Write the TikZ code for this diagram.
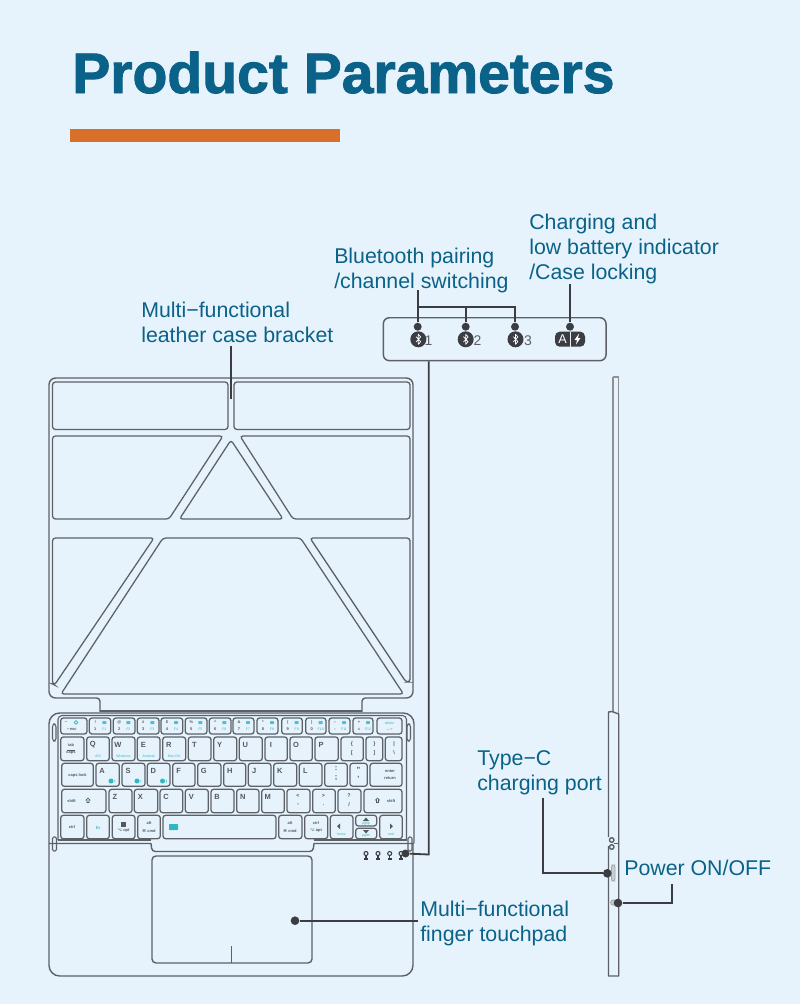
\documentclass[tikz,border=0pt]{standalone}
\usepackage{fontspec}
\setmainfont{Liberation Sans}
\newfontfamily\titlefont[FakeBold=1.6]{Liberation Sans Bold}
\newfontfamily\symf{DejaVu Sans}
\definecolor{bgc}{HTML}{E6F3FC}
\definecolor{txtc}{HTML}{0B6288}
\definecolor{linec}{HTML}{5D6166}
\definecolor{dotc}{HTML}{3C3D42}
\definecolor{tealc}{HTML}{2FB8C2}
\definecolor{barc}{HTML}{D9702A}
\definecolor{keyt}{HTML}{54585C}
\tikzset{
  lbl/.style={font=\fontsize{16}{18.75}\selectfont,text=txtc,align=left,anchor=north west,inner sep=0pt},
  outl/.style={draw=linec,line width=1.05pt,line join=round},
  thin outl/.style={draw=linec,line width=0.95pt,rounded corners=2.2pt},
  keyb/.style={draw=linec,line width=0.95pt,rounded corners=2pt},
  lead/.style={draw=dotc,line width=1.35pt},
  ldot/.style={circle,fill=dotc,inner sep=0pt,minimum size=6pt},
  kl/.style={font=\fontsize{5.6}{6}\selectfont\bfseries,text=keyt,inner sep=0pt},
  ks/.style={font=\fontsize{3}{3}\selectfont\bfseries,text=keyt,inner sep=0pt},
  kt/.style={font=\fontsize{2.6}{3}\selectfont,text=tealc,inner sep=0pt},
  btc/.style={circle,fill=dotc,inner sep=0pt,minimum size=12pt},
}
\newcommand\kk[6]{\draw[keyb](#1,#3) rectangle (#2,#4);
  \node[kl] (k#1-#3) at (#1+6,#3+8) {#5};
  \node[kt] (n#1-#3) at ({(#1+#2)/2},#3+19) {#6};}
\newcommand\kn[5]{\draw[keyb](#1,718) rectangle (#2,734);
  \node[ks] (a#1) at (#1+6,722.5) {#3};
  \node[ks] (b#1) at (#1+6,729.5) {#4};
  \node[kt] (c#1) at (#1+15,729.5) {#5};
  \fill[tealc!85!white,rounded corners=0.4pt] (#1+13,721) rectangle (#1+17,724);}
\newcommand\btr[3]{\draw[#3,line width=0.55pt,line join=round] (#1-2.2,#2-2.6)--(#1+2.4,#2+2.4)--(#1,#2+5)--(#1,#2-5)--(#1+2.4,#2-2.4)--(#1-2.2,#2+2.6);}
\begin{document}
\begin{tikzpicture}[x=0.75pt,y=-0.75pt]
\useasboundingbox (0,0) rectangle (800,1004);
\fill[bgc] (0,0) rectangle (800,1004);
% title
\node[anchor=base west,inner sep=0pt,text=txtc,font=\fontsize{42.8}{46}\titlefont] (title) at (72,93) {Product Parameters};
\fill[barc] (70,129) rectangle (340,142);

% case outline
\draw[outl] (100,712) [rounded corners=2.5pt] -- (100,698) [rounded corners=5pt] -- (49,698) -- (49,378) -- (413,378) -- (413,698) [rounded corners=2.5pt] -- (362,698) [sharp corners] -- (362,712);
% case panels
\draw[thin outl] (52.5,382) rectangle (228,429.5);
\draw[thin outl] (234,382) rectangle (410,429.5);
\draw[thin outl] (52.5,436) -- (223,436) -- (169,519) -- (52.5,519) -- cycle;
\draw[thin outl] (231,440) -- (283,519) -- (179.5,519) -- cycle;
\draw[thin outl] (240,436) -- (410,436) -- (410,519) -- (293,519) -- cycle;
\draw[thin outl] (52.5,538) -- (154,538) -- (54.5,685) -- (52.5,684) -- cycle;
\draw[thin outl] (163,538) -- (300.5,538) -- (403.5,694) -- (61,694) -- cycle;
\draw[thin outl] (310,538) -- (410,538) -- (410,682) -- (406,682) -- cycle;

% keyboard body
\draw[outl,rounded corners=8pt] (49,843) -- (49,713) -- (414,713) -- (414,843);
\draw[outl,line width=0.8pt] (100,711) -- (362,711);
\draw[outl,line width=0.8pt,rounded corners=3pt] (58,840) -- (58,715.5) -- (406.5,715.5) -- (406.5,840);
% hinge
\draw[outl] (49,843.5) -- (151,843.5) [rounded corners=2.5pt] -- (152,851.5) -- (313,851.5) [sharp corners] -- (314,843.5) -- (414,843.5);
\draw[outl,line width=0.8pt] (58,840) -- (151,840);
\draw[outl,line width=0.8pt] (314,840) -- (406.5,840);
\draw[outl,line width=0.8pt,rounded corners=1pt] (52.5,837) rectangle (56.5,851);
\draw[outl,line width=0.8pt,rounded corners=1pt] (408,837) rectangle (412,851);
\draw[outl,line width=0.8pt,rounded corners=2pt] (52.5,724) rectangle (56,741);
\draw[outl,line width=0.8pt,rounded corners=2pt] (407,724) rectangle (410.5,741);
% base
\draw[outl,rounded corners=8pt] (49,843) -- (49,976) -- (413,976) -- (413,843);
% touchpad
\draw[outl,rounded corners=3pt] (152,856) rectangle (312,963);
\draw[outl,line width=0.8pt] (231.7,946) -- (231.7,963);

% number row
\draw[keyb] (60.7,718) rectangle (87,734);
\node[ks] (esca) at (66,722.5) {\textasciitilde};
\node[ks] (escb) at (72,729.5) {• esc};
\draw[tealc,line width=0.5pt] (76,722.5) circle (1.8);
\kn{89.3}{110.7}{!}{1}{F1}
\kn{113.3}{135}{@}{2}{F2}
\kn{137.3}{159}{\#}{3}{F3}
\kn{161}{182.7}{\$}{4}{F4}
\kn{185.3}{207}{\%}{5}{F5}
\kn{209.3}{231}{\textasciicircum}{6}{F6}
\kn{233}{254}{\&}{7}{F7}
\kn{257}{278}{*}{8}{F8}
\kn{281.7}{302.3}{(}{9}{F9}
\kn{305.7}{326}{)}{0}{F10}
\kn{329}{350}{--}{-}{F11}
\kn{353}{373}{+}{=}{F12}
\draw[keyb] (377,718) rectangle (402,734);
\node[kt,text=tealc] (del) at (389.5,723) {delete};
\node[ks] (delb) at (389.5,729.5) {←--};

% QWERTY row
\draw[keyb] (60.7,737) rectangle (84,760.7);
\node[ks,align=center] (tab) at (71,749) {tab\\[-0.6pt]\rule{6pt}{0.3pt}\\[-0.4pt]caps};
\kk{86.7}{109.3}{737}{760.7}{Q}{iOS}
\kk{112}{135}{737}{760.7}{W}{Windows}
\kk{137.3}{160}{737}{760.7}{E}{Android}
\kk{162.7}{185.7}{737}{760.7}{R}{Mac OS}
\kk{188.3}{211}{737}{760.7}{T}{}
\kk{213.7}{236.7}{737}{760.7}{Y}{}
\kk{239.3}{262.3}{737}{760.7}{U}{}
\kk{265}{287.3}{737}{760.7}{I}{}
\kk{290}{312.3}{737}{760.7}{O}{}
\kk{315}{338.3}{737}{760.7}{P}{}
\draw[keyb] (341,737) rectangle (363.3,760.7);
\node[ks,font=\fontsize{4}{4}\selectfont\bfseries] (brl) at (352,744) {\{};
\node[ks,font=\fontsize{4}{4}\selectfont\bfseries] (brl2) at (352,753) {[};
\draw[keyb] (366,737) rectangle (382.7,760.7);
\node[ks,font=\fontsize{4}{4}\selectfont\bfseries] (brr) at (374.5,744) {\}};
\node[ks,font=\fontsize{4}{4}\selectfont\bfseries] (brr2) at (374.5,753) {]};
\draw[keyb] (385.3,737) rectangle (402,760.7);
\node[ks,font=\fontsize{4}{4}\selectfont\bfseries] (bsl) at (394,744) {|};
\node[ks,font=\fontsize{4}{4}\selectfont\bfseries] (bsl2) at (394,753) {\textbackslash};

% ASDF row
\draw[keyb] (61.7,763.3) rectangle (93.3,786.3);
\node[ks] (caps) at (77.5,775) {caps lock};
\kk{96}{119.3}{763.3}{786.3}{A}{}
\kk{122}{145}{763.3}{786.3}{S}{}
\kk{147.3}{170}{763.3}{786.3}{D}{}
\fill[tealc] (111,781) circle (2.5) (137,781) circle (2.5) (162.5,781) circle (2.5);
\fill[tealc] (114.5,779.5) rectangle (115.2,782.5) (140.5,779.5) rectangle (141.2,782.5) (166,779.5) rectangle (166.7,782.5);
\kk{172.7}{195}{763.3}{786.3}{F}{}
\kk{197.7}{221}{763.3}{786.3}{G}{}
\kk{223.7}{245.7}{763.3}{786.3}{H}{}
\kk{248.3}{271}{763.3}{786.3}{J}{}
\kk{273.7}{296.7}{763.3}{786.3}{K}{}
\kk{299.3}{322}{763.3}{786.3}{L}{}
\draw[keyb] (324.7,763.3) rectangle (347.3,786.3);
\node[kl] (col) at (336,769) {:};
\node[kl] (scl) at (336,778) {;};
\draw[keyb] (350,763.3) rectangle (367.3,786.3);
\node[kl] (quo) at (358.5,770) {"};
\node[kl] (apo) at (358.5,779) {'};
\draw[keyb] (370,763.3) rectangle (402,786.3);
\node[ks] (ent) at (390,771.5) {enter};
\node[ks] (ret) at (390,778) {return};

% ZXCV row
\draw[keyb] (61.7,789.3) rectangle (106,812.7);
\node[ks] (shl) at (71.5,801) {shift};
\draw[keyt,line width=0.4pt] (86,800) -- (88,798) -- (90,800) -- (89,800) -- (89,802.5) -- (87,802.5) -- (87,800) -- cycle;
\kk{109}{132}{789.3}{812.7}{Z}{}
\kk{134.3}{157.7}{789.3}{812.7}{X}{}
\kk{160}{182.7}{789.3}{812.7}{C}{}
\kk{185.3}{208.3}{789.3}{812.7}{V}{}
\kk{211}{234}{789.3}{812.7}{B}{}
\kk{236.7}{259}{789.3}{812.7}{N}{}
\kk{261.7}{284.3}{789.3}{812.7}{M}{}
\draw[keyb] (287,789.3) rectangle (310,812.7);
\node[ks,font=\fontsize{4}{4}\selectfont\bfseries] (lta) at (298,796) {<};
\node[ks,font=\fontsize{4}{4}\selectfont\bfseries] (ltb) at (298,805) {,};
\draw[keyb] (312.7,789.3) rectangle (335.3,812.7);
\node[ks,font=\fontsize{4}{4}\selectfont\bfseries] (gta) at (323.5,796) {>};
\node[ks,font=\fontsize{4}{4}\selectfont\bfseries] (gtb) at (323.5,805) {.};
\draw[keyb] (338,789.3) rectangle (361,812.7);
\node[ks,font=\fontsize{4}{4}\selectfont\bfseries] (qua) at (349,796) {?};
\node[ks,font=\fontsize{4}{4}\selectfont\bfseries] (qub) at (349,805) {/};
\draw[keyb] (364,789.3) rectangle (402,812.7);
\draw[keyt,line width=0.4pt] (375.5,800) -- (377.5,798) -- (379.5,800) -- (378.5,800) -- (378.5,802.5) -- (376.5,802.5) -- (376.5,800) -- cycle;
\node[ks] (shr) at (391,801) {shift};

% bottom row
\draw[keyb] (60.7,815.3) rectangle (84,838.7);
\node[ks] (ctl) at (72,827) {ctrl};
\draw[keyb] (86.7,815.3) rectangle (109.3,838.7);
\node[kt,font=\fontsize{3.2}{3}\selectfont\bfseries] (fnk) at (98,827.5) {fn};
\draw[keyb] (112.3,815.3) rectangle (135,838.7);
\fill[keyt] (120.5,822) rectangle (125.5,826.5);
\node[ks] (opta) at (123.5,830.5) {{\symf ⌥} opt};
\draw[keyb] (137.7,815.3) rectangle (160.3,838.7);
\node[ks] (alta) at (149,823.5) {alt};
\node[ks] (cmda) at (149,830.5) {{\symf ⌘} cmd};
\draw[keyb] (163,815.3) rectangle (276,838.7);
\fill[tealc,rounded corners=0.5pt] (169,824) rectangle (178,830);
\draw[keyb] (278.7,815.3) rectangle (302,838.7);
\node[ks] (altb) at (290,823.5) {alt};
\node[ks] (cmdb) at (290,830.5) {{\symf ⌘} cmd};
\draw[keyb] (304.7,815.3) rectangle (327.7,838.7);
\node[ks] (ctlb) at (316,823.5) {ctrl};
\node[ks] (optb) at (316,830.5) {{\symf ⌥} opt};
\draw[keyb] (330.3,815.3) rectangle (353,838.7);
\fill[keyt] (340,823.5) -- (340,829) -- (337,826.2) -- cycle;
\node[kt] (homek) at (341.5,834) {home};
\draw[keyb] (355.7,815.3) rectangle (376.7,826);
\fill[keyt] (366,817.5) -- (369,821) -- (363,821) -- cycle;
\node[kt] (upk) at (366,823.8) {pgup};
\draw[keyb] (355.7,828.3) rectangle (376.7,838.7);
\fill[keyt] (366,833.5) -- (369,830) -- (363,830) -- cycle;
\node[kt] (dnk) at (366,835.8) {pgdn};
\draw[keyb] (379.7,815.3) rectangle (402.3,838.7);
\fill[keyt] (390,823.5) -- (390,829) -- (393,826.2) -- cycle;
\node[kt] (endk) at (391,834) {end};

% indicator glyphs on the keyboard
\foreach \ix in {366,378,389.7,401}{
  \draw[dotc,line width=0.8pt] (\ix,853.5) circle (2);
  \fill[dotc] (\ix-2,857.5) rectangle (\ix+2,860);
  \draw[dotc,line width=0.8pt] (\ix,855) -- (\ix,858);
}

% leader: case bracket
\node[lbl] (lcase) at (141,302) {Multi−functional\\leather case bracket};
\coordinate (caseA) at (231,346);
\coordinate (caseB) at (231,399);
\draw[lead] (caseA) -- (caseB);

% indicator panel
\node[draw=linec,line width=1.1pt,rounded corners=4.5pt,minimum width=167pt,minimum height=32.2pt,inner sep=0pt] (panel) at (494.7,339.2) {};
\node[ldot] (d1) at (417.7,326.7) {};
\node[ldot] (d2) at (465.7,326.7) {};
\node[ldot] (d3) at (515,326.7) {};
\node[ldot] (d4) at (570,326.7) {};
\coordinate (bus1) at (417.7,307);
\coordinate (bus2) at (465.7,307);
\coordinate (bus3) at (515,307);
\coordinate (btTop) at (417.7,290);
\coordinate (chTop) at (570,284);
\draw[lead] (btTop) -- (d1);
\draw[lead] (bus1) -- (bus3) -- (d3);
\draw[lead] (bus2) -- (d2);
\draw[lead] (chTop) -- (d4);
\node[btc] (bt1) at (418.3,339.3) {};
\node[btc] (bt2) at (465.7,339.3) {};
\node[btc] (bt3) at (515.5,339.3) {};
\btr{418.3}{339.3}{white!85!bgc}
\btr{465.7}{339.3}{white!85!bgc}
\btr{515.5}{339.3}{white!85!bgc}
\node[inner sep=0pt,text=linec,font=\fontsize{10.5}{12}\selectfont] (n1) at (428.5,340.5) {1};
\node[inner sep=0pt,text=linec,font=\fontsize{10.5}{12}\selectfont] (n2) at (477.5,340.5) {2};
\node[inner sep=0pt,text=linec,font=\fontsize{10.5}{12}\selectfont] (n3) at (528,340.5) {3};
\fill[dotc,rounded corners=3.5pt] (555,331.7) rectangle (585,346.7);
\draw[bgc,line width=0.6pt] (570,331.7) -- (570,346.7);
\node[inner sep=0pt,text=white,font=\fontsize{9.5}{10}\selectfont] (lockA) at (562.5,339.5) {A};
\fill[white] (579,333.5) -- (574.5,340) -- (577,340) -- (576,344.5) -- (580.5,338) -- (578,338) -- cycle;

\node[lbl] (lbt) at (334,248) {Bluetooth pairing\\/channel switching};
\node[lbl] (lch) at (529,214) {Charging and\\low battery indicator\\/Case locking};

% leader: panel to keyboard
\node[ldot] (pair) at (405.5,853.5) {};
\coordinate (pairC) at (428.7,854.5);
\draw[lead] (panel.south -| pairC) -- (pairC) -- (pair);

% side view
\draw[draw=linec!70,line width=1pt] (613,377) -- (613,712);
\draw[draw=linec!70,line width=1pt] (618.5,377) -- (618.5,714);
\draw[draw=linec!70,line width=0.8pt] (613,377) -- (618.5,377);
\draw[outl] (608.5,837) -- (608.5,712) -- (612,711.5) -- (618.7,714) -- (618.7,976) -- (608.5,976) -- (608.5,846);
\draw[outl] (611.7,840) circle (2.3) (611.7,847) circle (2.3);
\draw[outl,line width=0.8pt] (614,843.5) -- (618.7,843.5);
\draw[draw=linec!55,line width=0.7pt,rounded corners=1.5pt,fill=linec!25!bgc] (611.5,865) rectangle (615,881);
\draw[draw=linec!55,line width=0.7pt,fill=linec!25!bgc] (613.3,902.5) circle (2.6);

\node[lbl] (ltype) at (477,750) {Type−C\\charging port};
\node[ldot,minimum size=6.5pt] (typeD) at (607.3,873.3) {};
\coordinate (typeT) at (543.3,798.3);
\coordinate (typeM) at (543.3,873.3);
\draw[lead] (typeT) -- (typeM) -- (typeD);

\node[lbl] (lpow) at (624,860) {Power ON/OFF};
\node[ldot,minimum size=6.5pt] (powD) at (618,903) {};
\coordinate (powT) at (672.3,884);
\coordinate (powM) at (672.3,903);
\draw[lead] (powT) -- (powM) -- (powD);

\node[lbl] (ltp) at (420,901) {Multi−functional\\finger touchpad};
\node[ldot,minimum size=6.5pt] (tpD) at (295,920.7) {};
\coordinate (tpE) at (418,920.7);
\draw[lead] (tpD) -- (tpE);
\end{tikzpicture}
\end{document}
